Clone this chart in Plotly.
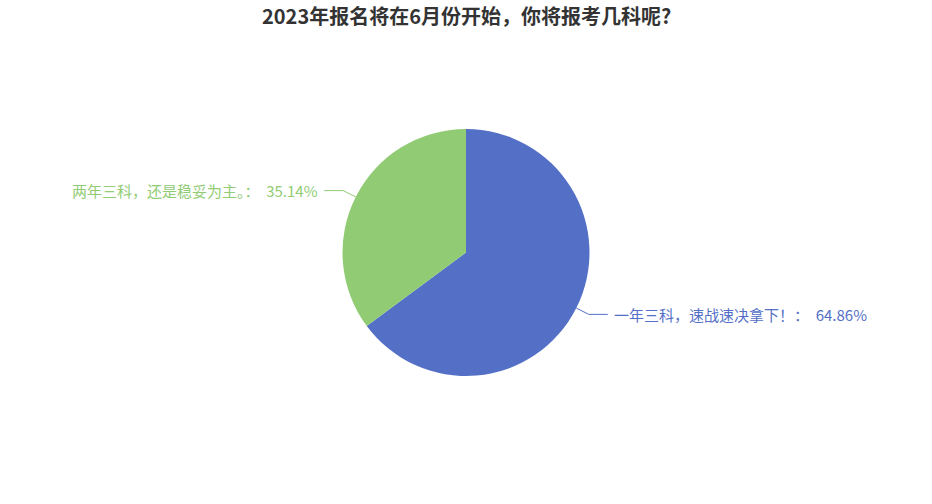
import math
import plotly.graph_objects as go

title = "2023年报名将在6月份开始，你将报考几科呢?"
labels = ["一年三科，速战速决拿下！", "两年三科，还是稳妥为主。"]
values = [64.86, 35.14]
colors = ["#5470c6", "#91cc75"]

W, H = 932, 504
CX, CY, R = 466, 252.5, 123.5
LEN1, LEN2 = 14, 19
FONT = "Noto Sans CJK SC, Microsoft YaHei, sans-serif"

def px(x, y):
    return x / W, 1 - y / H

fig = go.Figure()
fig.add_trace(go.Pie(
    labels=labels, values=values, sort=False, direction="clockwise", rotation=0,
    marker=dict(colors=colors, line=dict(width=0)),
    textinfo="none", showlegend=False,
    domain=dict(x=[(CX - R) / W, (CX + R) / W], y=[1 - (CY + R) / H, 1 - (CY - R) / H]),
))

total = sum(values)
cum = 0.0
shapes, annotations = [], []
for lab, v, c in zip(labels, values, colors):
    mid = (cum + v / 2) / total * 360.0  # degrees clockwise from top
    cum += v
    a = math.radians(mid)
    dx, dy = math.sin(a), -math.cos(a)
    x0, y0 = CX + R * dx, CY + R * dy
    x1, y1 = CX + (R + LEN1) * dx, CY + (R + LEN1) * dy
    side = 1 if dx >= 0 else -1
    x2, y2 = x1 + side * LEN2, y1
    for (ax, ay), (bx, by) in [((x0, y0), (x1, y1)), ((x1, y1), (x2, y2))]:
        p0, p1 = px(ax, ay), px(bx, by)
        shapes.append(dict(type="line", xref="paper", yref="paper",
                           x0=p0[0], y0=p0[1], x1=p1[0], y1=p1[1],
                           line=dict(color=c, width=1)))
    tx, ty = px(x2 + side * 4, y2)
    annotations.append(dict(
        xref="paper", yref="paper", x=tx, y=ty, showarrow=False,
        xanchor="left" if side > 0 else "right", yanchor="middle",
        text=f"{lab}：  {v:.2f}%", font=dict(size=15, color=c, family=FONT),
    ))

annotations.append(dict(
    xref="paper", yref="paper", x=0.5, y=1 - 15 / H, showarrow=False,
    xanchor="center", yanchor="middle",
    text=f"<b>{title}</b>", font=dict(size=20, color="#333333", family=FONT),
))

fig.update_layout(
    width=W, height=H, margin=dict(l=0, r=0, t=0, b=0),
    paper_bgcolor="white", plot_bgcolor="white",
    shapes=shapes, annotations=annotations,
    font=dict(family=FONT),
)
fig.write_html("out.html", config={"displayModeBar": False},
               post_script="document.body.style.margin='0px';")
